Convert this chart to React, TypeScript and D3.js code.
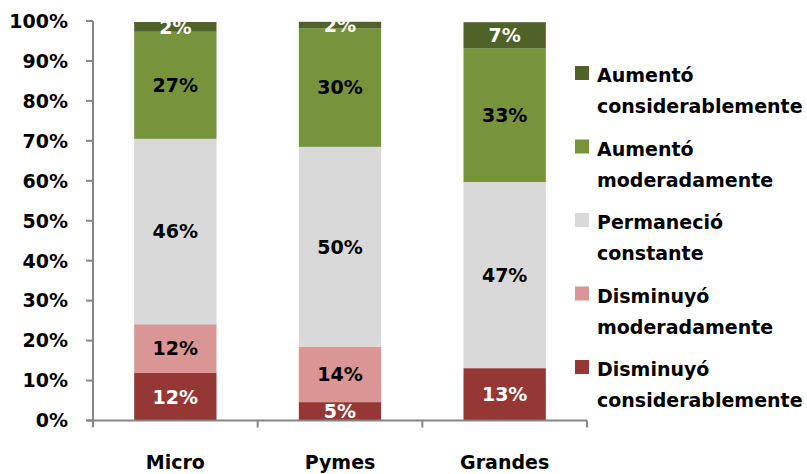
import React from "react";
import * as d3 from "d3";

const categories = ["Micro", "Pymes", "Grandes"];
const seriesNames = [
  "Disminuyó considerablemente",
  "Disminuyó moderadamente",
  "Permaneció constante",
  "Aumentó moderadamente",
  "Aumentó considerablemente",
];
const legendLines = [
  ["Disminuyó", "considerablemente"],
  ["Disminuyó", "moderadamente"],
  ["Permaneció", "constante"],
  ["Aumentó", "moderadamente"],
  ["Aumentó", "considerablemente"],
];
const dismConsiderable = [11.9, 4.6, 13.1];
const dismModerado = [12.2, 13.9, 0];
const permanecio = [46.4, 50.0, 46.6];
const aumModerado = [26.8, 29.7, 33.4];
const aumConsiderable = [2.45, 1.6, 6.6];
const seriesColors = ["#953735", "#D99694", "#D9D9D9", "#77933C", "#4F6228"];
const labelColors = ["#ffffff", "#000000", "#000000", "#000000", "#ffffff"];
const yTicks = [0, 10, 20, 30, 40, 50, 60, 70, 80, 90, 100];

const FONT = "'DejaVu Sans', sans-serif";

export default function App() {
  const W = 807, H = 474;
  const left = 93, right = 587, top = 21, bottom = 420.5;
  const series = [dismConsiderable, dismModerado, permanecio, aumModerado, aumConsiderable];
  const rows = categories.map((c, i) => {
    const r: any = { cat: c };
    seriesNames.forEach((s, k) => (r[s] = series[k][i]));
    return r;
  });
  const stack = d3.stack().keys(seriesNames)(rows as any);
  const x = d3.scaleBand().domain(categories).range([left, right]).paddingInner(0.5).paddingOuter(0.25);
  const y = d3.scaleLinear().domain([0, 100]).range([bottom, top]);
  const step = x.step();
  const catTicks = d3.range(categories.length + 1).map((i) => left + i * step);

  return (
    <svg width={W} height={H} style={{ position: "absolute", left: 0, top: 0, background: "#fff" }} fontFamily={FONT} fontWeight="bold">
      {stack.map((layer, k) => (
        <g key={k} fill={seriesColors[k]}>
          {layer.map((d, i) =>
            d[1] - d[0] > 0 ? (
              <rect key={i} x={x(categories[i])} y={y(d[1])} width={x.bandwidth()} height={y(d[0]) - y(d[1])} />
            ) : null
          )}
        </g>
      ))}
      {stack.map((layer, k) => (
        <g key={"l" + k} fill={labelColors[k]} fontSize={19} textAnchor="middle">
          {layer.map((d, i) =>
            d[1] - d[0] >= 0.5 ? (
              <text key={i} x={x(categories[i])! + x.bandwidth() / 2} y={y((d[0] + d[1]) / 2)} dy="0.36em">
                {Math.round(d[1] - d[0]) + "%"}
              </text>
            ) : null
          )}
        </g>
      ))}
      {/* y axis */}
      <line x1={left} x2={left} y1={top} y2={bottom} stroke="#868686" strokeWidth={2} />
      {yTicks.map((t) => (
        <g key={t}>
          <line x1={left - 7} x2={left} y1={y(t)} y2={y(t)} stroke="#868686" strokeWidth={2} />
          <text x={68} y={y(t)} dy="0.36em" textAnchor="end" fontSize={19} fill="#000">
            {t + "%"}
          </text>
        </g>
      ))}
      {/* x axis */}
      <line x1={left - 7} x2={right} y1={bottom} y2={bottom} stroke="#868686" strokeWidth={2} />
      {catTicks.map((t, i) => (
        <line key={i} x1={t} x2={t} y1={bottom} y2={bottom + 7} stroke="#868686" strokeWidth={2} />
      ))}
      {categories.map((c) => (
        <text key={c} x={x(c)! + x.bandwidth() / 2} y={469} textAnchor="middle" fontSize={19} fill="#000">
          {c}
        </text>
      ))}
      {/* legend */}
      {legendLines
        .map((lines, k) => ({ lines, k }))
        .reverse()
        .map(({ lines, k }, j) => {
          const base = 82 + j * 73.5;
          return (
            <g key={k}>
              <rect x={575} y={base - 16} width={14} height={14} fill={seriesColors[k]} />
              <text x={597} y={base} fontSize={19} fill="#000">{lines[0]}</text>
              <text x={597} y={base + 31} fontSize={19} fill="#000">{lines[1]}</text>
            </g>
          );
        })}
    </svg>
  );
}
